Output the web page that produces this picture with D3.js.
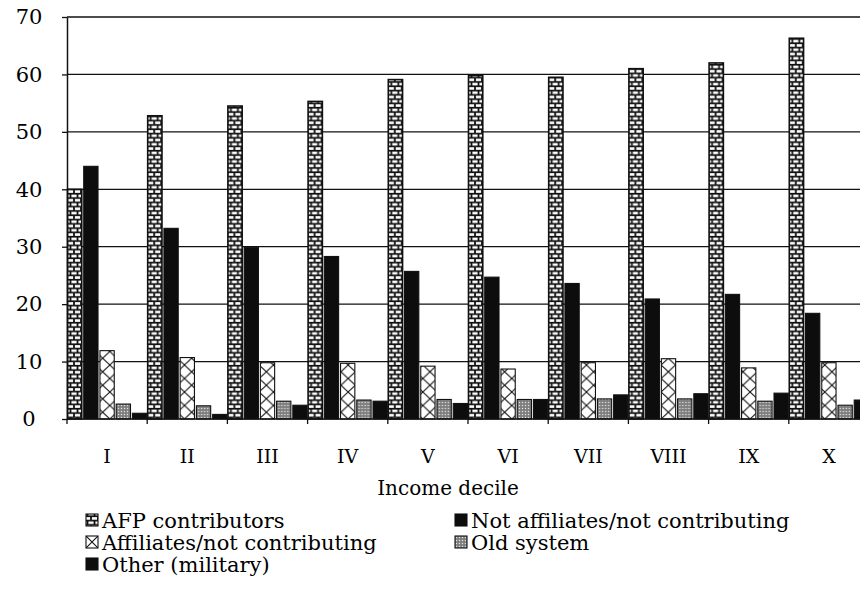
<!DOCTYPE html>
<html>
<head>
<meta charset="utf-8">
<script src="https://cdn.jsdelivr.net/npm/d3@7"></script>
<style>
  html, body { margin: 0; padding: 0; background: #fff; }
  svg { display: block; }
  text { font-family: "DejaVu Serif", "Liberation Serif", serif; fill: #000; }
</style>
</head>
<body>
<svg id="chart" width="860" height="595"></svg>
<script>
// Population by pension status across income deciles (percent)
const deciles = ["I", "II", "III", "IV", "V", "VI", "VII", "VIII", "IX", "X"];
const afpContributors       = [40.0, 52.8, 54.5, 55.3, 59.1, 59.8, 59.5, 61.0, 62.0, 66.3];
const notAffiliated         = [44.0, 33.2, 29.9, 28.3, 25.7, 24.7, 23.6, 20.9, 21.7, 18.4];
const affiliatesNotContrib  = [11.9, 10.7, 9.8, 9.7, 9.2, 8.7, 9.8, 10.5, 8.9, 9.8];
const oldSystem             = [2.6, 2.3, 3.1, 3.3, 3.4, 3.4, 3.5, 3.5, 3.1, 2.4];
const otherMilitary         = [1.0, 0.8, 2.4, 3.1, 2.7, 3.4, 4.2, 4.4, 4.5, 3.3];
const yTicks = [0, 10, 20, 30, 40, 50, 60, 70];
const seriesNames = ["AFP contributors", "Not affiliates/not contributing",
  "Affiliates/not contributing", "Old system", "Other (military)"];

const series = [
  { key: "afp",   name: seriesNames[0], values: afpContributors },
  { key: "notaf", name: seriesNames[1], values: notAffiliated },
  { key: "affnc", name: seriesNames[2], values: affiliatesNotContrib },
  { key: "old",   name: seriesNames[3], values: oldSystem },
  { key: "mil",   name: seriesNames[4], values: otherMilitary }
];
// bar order within each decile
const barOrder = ["afp", "notaf", "affnc", "old", "mil"];

const svg = d3.select("#chart");
const defs = svg.append("defs");

const plotLeft = 67, plotRight = 869, plotTop = 17, plotBottom = 419;

const x = d3.scaleBand().domain(deciles).range([plotLeft, plotRight]).padding(0);
const xs = d3.scaleBand().domain(barOrder).range([0, x.bandwidth()])
  .paddingInner(0.12).paddingOuter(0.03);
const y = d3.scaleLinear().domain([0, 70]).range([plotBottom, plotTop]);

// brick texture
const brick = defs.append("pattern").attr("id", "brick")
  .attr("patternUnits", "userSpaceOnUse").attr("width", 7).attr("height", 8.6);
brick.append("rect").attr("width", 7).attr("height", 8.6).attr("fill", "#111");
brick.append("rect").attr("x", 0.9).attr("y", 1.1).attr("width", 5.2).attr("height", 2.6).attr("fill", "#fff");
brick.append("rect").attr("x", -2.6).attr("y", 5.4).attr("width", 5.2).attr("height", 2.6).attr("fill", "#fff");
brick.append("rect").attr("x", 4.4).attr("y", 5.4).attr("width", 5.2).attr("height", 2.6).attr("fill", "#fff");

// stippled grey texture
const stip = defs.append("pattern").attr("id", "stipple")
  .attr("patternUnits", "userSpaceOnUse").attr("width", 3).attr("height", 3);
stip.append("rect").attr("width", 3).attr("height", 3).attr("fill", "#8a8a8a");
stip.append("rect").attr("x", 0).attr("y", 0).attr("width", 1).attr("height", 1).attr("fill", "#e4e4e4");
stip.append("rect").attr("x", 1.5).attr("y", 1.5).attr("width", 1).attr("height", 1).attr("fill", "#5a5a5a");

// crossed texture, one cell spanning the full bar width
function crossPattern(id, px, py, w, h) {
  const p = defs.append("pattern").attr("id", id)
    .attr("patternUnits", "userSpaceOnUse")
    .attr("x", px).attr("y", py).attr("width", w).attr("height", h);
  p.append("rect").attr("width", w).attr("height", h).attr("fill", "#fff");
  p.append("path").attr("d", `M0,0L${w},${h}M${w},0L0,${h}`)
    .attr("stroke", "#111").attr("stroke-width", 1.1).attr("fill", "none");
  return `url(#${id})`;
}

function fillFor(key, i, bx, bw) {
  if (key === "afp") return "url(#brick)";
  if (key === "notaf" || key === "mil") return "#0d0d0d";
  if (key === "old") return "url(#stipple)";
  return crossPattern("cross-" + i, bx, plotBottom, bw, 13.5);
}

// gridlines
svg.append("g").selectAll("line").data(yTicks.filter(t => t > 0)).join("line")
  .attr("x1", plotLeft).attr("x2", plotRight)
  .attr("y1", d => y(d)).attr("y2", d => y(d))
  .attr("stroke", "#111").attr("stroke-width", 1.3);

// bars
const groups = svg.append("g").selectAll("g").data(deciles).join("g")
  .attr("transform", d => `translate(${x(d)},0)`);

groups.each(function(dec, i) {
  const g = d3.select(this);
  series.forEach(s => {
    const v = s.values[i];
    const bx = x(dec) + xs(s.key);
    const bw = xs.bandwidth();
    g.append("rect")
      .attr("x", xs(s.key)).attr("width", bw)
      .attr("y", y(v)).attr("height", y(0) - y(v))
      .attr("fill", fillFor(s.key, i, bx, bw))
      .attr("stroke", "#111")
      .attr("stroke-width", s.key === "afp" ? 1.6 : 1.1);
  });
});

// y axis, labels centred in the left margin
const yAxis = svg.append("g").attr("transform", `translate(${plotLeft},0)`)
  .call(d3.axisLeft(y).tickValues(yTicks).tickSize(5).tickPadding(0).tickSizeOuter(0));
yAxis.select(".domain").attr("stroke", "#111").attr("stroke-width", 1.5);
yAxis.selectAll(".tick line").attr("stroke", "#111").attr("stroke-width", 1.3);
yAxis.selectAll(".tick text")
  .attr("x", 29 - plotLeft)
  .attr("text-anchor", "middle")
  .attr("font-size", 21).attr("fill", "#000")
  .attr("font-family", "DejaVu Serif");

// x axis: ticks sit at decile boundaries
svg.append("line").attr("x1", plotLeft).attr("x2", plotRight)
  .attr("y1", plotBottom).attr("y2", plotBottom)
  .attr("stroke", "#111").attr("stroke-width", 1.5);
svg.append("g").selectAll("line").data(deciles).join("line")
  .attr("x1", d => x(d)).attr("x2", d => x(d))
  .attr("y1", plotBottom).attr("y2", plotBottom + 5)
  .attr("stroke", "#111").attr("stroke-width", 1.3);
svg.append("g").selectAll("text").data(deciles).join("text")
  .attr("x", d => x(d) + x.bandwidth() / 2)
  .attr("y", 463)
  .attr("text-anchor", "middle")
  .attr("font-size", 19)
  .text(d => d);

svg.append("text").attr("x", 448).attr("y", 495)
  .attr("text-anchor", "middle").attr("font-size", 20)
  .text("Income decile");

// legend
const legendPos = [
  { key: "afp",   col: 0, row: 0 },
  { key: "notaf", col: 1, row: 0 },
  { key: "affnc", col: 0, row: 1 },
  { key: "old",   col: 1, row: 1 },
  { key: "mil",   col: 0, row: 2 }
];
const colX = [86, 455], rowY = [521, 543, 565], sw = 12;
legendPos.forEach(lp => {
  const s = series.find(d => d.key === lp.key);
  const lx = colX[lp.col], ly = rowY[lp.row];
  let fill;
  if (lp.key === "affnc") fill = crossPattern("cross-legend", lx, ly - sw / 2 - 1, sw, sw);
  else if (lp.key === "afp") fill = "url(#brick)";
  else if (lp.key === "old") fill = "url(#stipple)";
  else fill = "#0d0d0d";
  svg.append("rect").attr("x", lx).attr("y", ly - sw / 2 - 1)
    .attr("width", sw).attr("height", sw)
    .attr("fill", fill).attr("stroke", "#111").attr("stroke-width", 1.1);
  svg.append("text").attr("x", lx + sw + 4).attr("y", ly)
    .attr("dy", "0.35em").attr("font-size", 21)
    .text(s.name);
});
</script>
</body>
</html>
